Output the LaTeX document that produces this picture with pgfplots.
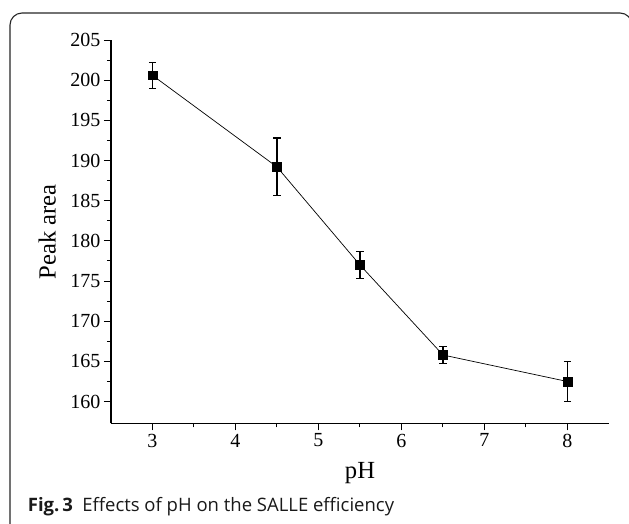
\documentclass[border=0pt]{standalone}
\usepackage{fontspec}
\setmainfont{Liberation Serif}
\newfontfamily\capfont{Open Sans}
\usepackage{pgfplots}
\pgfplotsset{compat=1.18}

\begin{document}
\begin{tikzpicture}[x=1pt,y=1pt]
\useasboundingbox (0,0) rectangle (629,-523);
% rounded frame, only top and left sides inside the page
\begin{scope}
\clip (0,0) rectangle (629,-523);
\draw[line width=1.1pt, black!85, rounded corners=12pt]
    (10,-540) -- (10,-13) -- (632,-13) -- (632,-540);
\end{scope}

\begin{axis}[
    at={(111pt,-423.3pt)}, anchor=south west,
    scale only axis,
    width=498pt, height=383.3pt,
    xmin=2.5, xmax=8.5,
    ymin=157.3, ymax=205,
    axis x line*=bottom,
    axis y line*=left,
    axis line style={-, line width=1.1pt},
    every outer x axis line/.append style={-},
    every outer y axis line/.append style={-},
    tick align=outside,
    major tick length=7pt,
    minor tick length=4pt,
    every tick/.style={black, line width=1pt},
    minor tick num=1,
    xtick={3,4,5,6,7,8},
    ytick={160,165,...,205},
    tick label style={font=\fontsize{20}{24}\selectfont},
    /pgf/number format/assume math mode=true,
    xlabel={pH},
    ylabel={Peak area},
    label style={font=\fontsize{24.6}{28}\selectfont},
    xlabel style={at={(axis description cs:0.5,-0.1435)}, anchor=base},
    ylabel style={at={(axis description cs:-0.128,0.5)}, anchor=center},
    clip=false,
]
\addplot[black, line width=0.7pt,
    mark=square*, mark size=4.4pt, mark options={solid},
    error bars/.cd, y dir=both, y explicit,
    error bar style={line width=1.2pt},
    error mark options={rotate=90, mark size=3.6pt, line width=1.2pt}]
coordinates {
    (3,   200.6) +- (0, 1.6)
    (4.5, 189.2) +- (0, 3.6)
    (5.5, 177.0) +- (0, 1.7)
    (6.5, 165.8) +- (0, 1.05)
    (8,   162.5) +- (0, 2.5)
};
\end{axis}

\node[anchor=base west, inner sep=0, text=black!90] at (27.7,-511.7)
    {\capfont\fontsize{18.5}{22}\selectfont\textbf{Fig.\,3}\hspace{0.5em}Effects of pH on the SALLE efficiency};
\end{tikzpicture}
\end{document}
